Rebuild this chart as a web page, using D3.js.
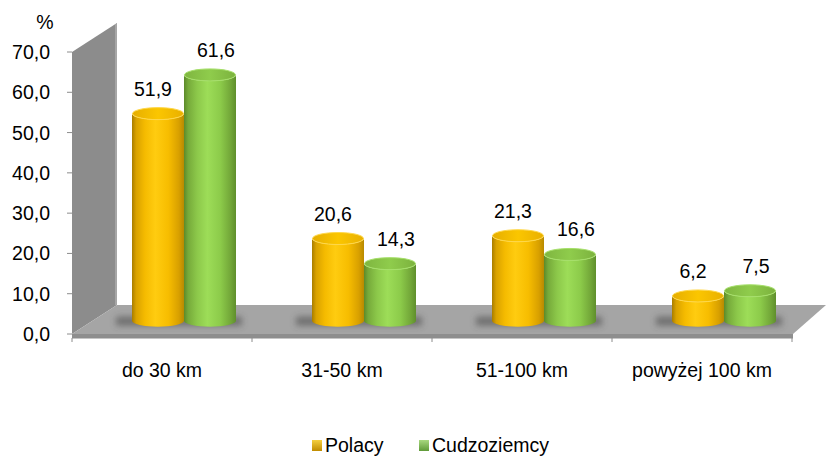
<!DOCTYPE html>
<html lang="pl">
<head>
<meta charset="UTF-8">
<title>Odległość</title>
<script src="https://cdn.jsdelivr.net/npm/d3@7/dist/d3.min.js"></script>
<style>
  body { margin: 0; background: #fff; }
  text { font-family: "Liberation Sans", Arial, sans-serif; fill: #000; }
</style>
</head>
<body>
<div id="vis"></div>
<script>

// data
var categories = ["do 30 km", "31-50 km", "51-100 km", "powyżej 100 km"];
var polacy = [51.9, 20.6, 21.3, 6.2];
var cudzoziemcy = [61.6, 14.3, 16.6, 7.5];
var seriesNames = ["Polacy", "Cudzoziemcy"];
var yTicks = [0, 10, 20, 30, 40, 50, 60, 70];

var width = 826, height = 457;
var depth = { dx: 45, dy: -29 };   // 3d offset of the back plane
var fontSize = 19.5;

var svg = d3.select("#vis").append("svg")
    .attr("width", width)
    .attr("height", height);

var fmt = d3.formatLocale({ decimal: ",", thousands: " ", grouping: [3], currency: ["", ""] }).format(".1f");

// front plane scales
var x = d3.scaleBand().domain(categories).range([72, 792]);
var y = d3.scaleLinear().domain([0, 70]).range([334, 52]);
// bars sit in the middle of the depth
var yBar = d3.scaleLinear().domain([0, 70]).range([320.7, 41.4]);
var barShift = 22;
var barW = 52, ry = 6;

var defs = svg.append("defs");

function hGrad(id, stops) {
    var g = defs.append("linearGradient").attr("id", id)
        .attr("x1", "0%").attr("x2", "100%").attr("y1", "0%").attr("y2", "0%");
    stops.forEach(function(s) {
        g.append("stop").attr("offset", s[0]).attr("stop-color", s[1]);
    });
}
hGrad("bodyO", [["0%", "#a97d00"], ["8%", "#d9a200"], ["25%", "#f5bb00"], ["45%", "#ffcc10"], ["70%", "#f7bd00"], ["90%", "#d8a000"], ["100%", "#b88a00"]]);
hGrad("bodyG", [["0%", "#5c8a2a"], ["8%", "#76aa3a"], ["25%", "#8cc84a"], ["45%", "#9ddd58"], ["70%", "#8ccb4a"], ["90%", "#72a638"], ["100%", "#5f8f2c"]]);
hGrad("topO", [["0%", "#e6ae00"], ["50%", "#fbc600"], ["100%", "#e9b000"]]);
hGrad("topG", [["0%", "#7fb640"], ["50%", "#8fcc4c"], ["100%", "#7cb23e"]]);

var lg1 = defs.append("linearGradient").attr("id", "legO").attr("x1", "0%").attr("x2", "0%").attr("y1", "0%").attr("y2", "100%");
lg1.append("stop").attr("offset", "0%").attr("stop-color", "#f5d040");
lg1.append("stop").attr("offset", "100%").attr("stop-color", "#c08c00");
var lg2 = defs.append("linearGradient").attr("id", "legG").attr("x1", "0%").attr("x2", "0%").attr("y1", "0%").attr("y2", "100%");
lg2.append("stop").attr("offset", "0%").attr("stop-color", "#a8d880");
lg2.append("stop").attr("offset", "100%").attr("stop-color", "#5f9a38");

defs.append("filter").attr("id", "blur")
    .attr("x", "-50%").attr("y", "-100%").attr("width", "200%").attr("height", "300%")
  .append("feGaussianBlur").attr("stdDeviation", 3);

var x0 = x.range()[0], x1 = x.range()[1];
var y0 = y(0), yTop = y(70);

// left wall
svg.append("path")
    .attr("d", "M" + x0 + "," + yTop + "L" + (x0 + depth.dx) + "," + (yTop + depth.dy) +
        "L" + (x0 + depth.dx) + "," + (y0 + depth.dy) + "L" + x0 + "," + y0 + "Z")
    .attr("fill", "#8c8c8c");
svg.append("line")
    .attr("x1", x0 + depth.dx - 1).attr("x2", x0 + depth.dx - 1)
    .attr("y1", yTop + depth.dy + 1).attr("y2", y0 + depth.dy)
    .attr("stroke", "#a6a6a6").attr("stroke-width", 2);

// floor
svg.append("path")
    .attr("d", "M" + x0 + "," + y0 + "L" + (x0 + depth.dx) + "," + (y0 + depth.dy) +
        "L" + width + "," + (y0 + depth.dy) + "L" + (x1 + 1) + "," + y0 + "Z")
    .attr("fill", "#a5a5a5");
svg.append("rect")
    .attr("x", x0).attr("y", y0)
    .attr("width", x1 - x0 + 1).attr("height", 4)
    .attr("fill", "#8e8e8e");

// y axis ticks and labels
svg.selectAll(".ytick").data(yTicks).enter().append("line")
    .attr("class", "ytick")
    .attr("x1", x0 - 5).attr("x2", x0)
    .attr("y1", function(d) { return y(d); })
    .attr("y2", function(d) { return y(d); })
    .attr("stroke", "#8c8c8c").attr("stroke-width", 1);

svg.selectAll(".ylab").data(yTicks).enter().append("text")
    .attr("class", "ylab")
    .attr("x", 50)
    .attr("y", function(d) { return y(d) + 7; })
    .attr("text-anchor", "end")
    .style("font-size", fontSize + "px")
    .text(function(d) { return fmt(d); });

svg.append("text")
    .attr("x", 45).attr("y", 29)
    .attr("text-anchor", "middle")
    .style("font-size", fontSize + "px")
    .text("%");

// x axis
svg.append("line")
    .attr("x1", x0).attr("x2", x1 + 1)
    .attr("y1", y0 + 4).attr("y2", y0 + 4)
    .attr("stroke", "#8c8c8c");
var bounds = categories.map(function(c) { return x(c); }).concat([x1]);
svg.selectAll(".xtick").data(bounds).enter().append("line")
    .attr("class", "xtick")
    .attr("x1", function(d) { return d; }).attr("x2", function(d) { return d; })
    .attr("y1", y0 + 4).attr("y2", y0 + 8)
    .attr("stroke", "#8c8c8c");

svg.selectAll(".xlab").data(categories).enter().append("text")
    .attr("class", "xlab")
    .attr("x", function(d) { return x(d) + x.bandwidth() / 2; })
    .attr("y", 377)
    .attr("text-anchor", "middle")
    .style("font-size", fontSize + "px")
    .text(function(d) { return d; });

// bars
var bars = [];
categories.forEach(function(c, i) {
    var cx = x(c) + x.bandwidth() / 2 + barShift;
    bars.push({ cat: c, s: 0, v: polacy[i], left: cx - barW });
    bars.push({ cat: c, s: 1, v: cudzoziemcy[i], left: cx });
});

// floor shadows
categories.forEach(function(c) {
    var cx = x(c) + x.bandwidth() / 2 + barShift;
    svg.append("rect")
        .attr("x", cx - barW - 16).attr("y", yBar(0) - 4)
        .attr("width", barW * 2 + 22).attr("height", 9)
        .attr("fill", "#3a3a3a").attr("opacity", 0.5)
        .attr("filter", "url(#blur)");
});

function bodyPath(d) {
    var l = d.left, r = d.left + barW, rx = barW / 2;
    var yb = yBar(0), yt = yBar(d.v);
    return "M" + l + "," + yt + "L" + l + "," + yb +
        "A" + rx + "," + ry + " 0 0 0 " + r + "," + yb +
        "L" + r + "," + yt +
        "A" + rx + "," + ry + " 0 0 1 " + l + "," + yt + "Z";
}

var g = svg.selectAll(".bar").data(bars).enter().append("g").attr("class", "bar");

g.append("path")
    .attr("d", bodyPath)
    .attr("fill", function(d) { return d.s === 0 ? "url(#bodyO)" : "url(#bodyG)"; });

g.append("ellipse")
    .attr("cx", function(d) { return d.left + barW / 2; })
    .attr("cy", function(d) { return yBar(d.v); })
    .attr("rx", barW / 2 - 0.5)
    .attr("ry", ry)
    .attr("fill", function(d) { return d.s === 0 ? "url(#topO)" : "url(#topG)"; })
    .attr("stroke", function(d) { return d.s === 0 ? "#ffd84a" : "#a6e06a"; })
    .attr("stroke-width", 1);

// value labels
g.append("text")
    .attr("x", function(d) { return d.left + barW / 2 + (d.s === 0 ? -5 : 6); })
    .attr("y", function(d) { return yBar(d.v) - ry - 12; })
    .attr("text-anchor", "middle")
    .style("font-size", fontSize + "px")
    .text(function(d) { return fmt(d.v); });

// legend
var legX = [312, 419];
var leg = svg.selectAll(".leg").data(seriesNames).enter().append("g").attr("class", "leg");
leg.append("rect")
    .attr("x", function(d, i) { return legX[i]; })
    .attr("y", 440)
    .attr("width", 10).attr("height", 11)
    .attr("fill", function(d, i) { return i === 0 ? "url(#legO)" : "url(#legG)"; });
leg.append("text")
    .attr("x", function(d, i) { return legX[i] + 13; })
    .attr("y", 452)
    .style("font-size", fontSize + "px")
    .text(function(d) { return d; });

</script>
</body>
</html>
